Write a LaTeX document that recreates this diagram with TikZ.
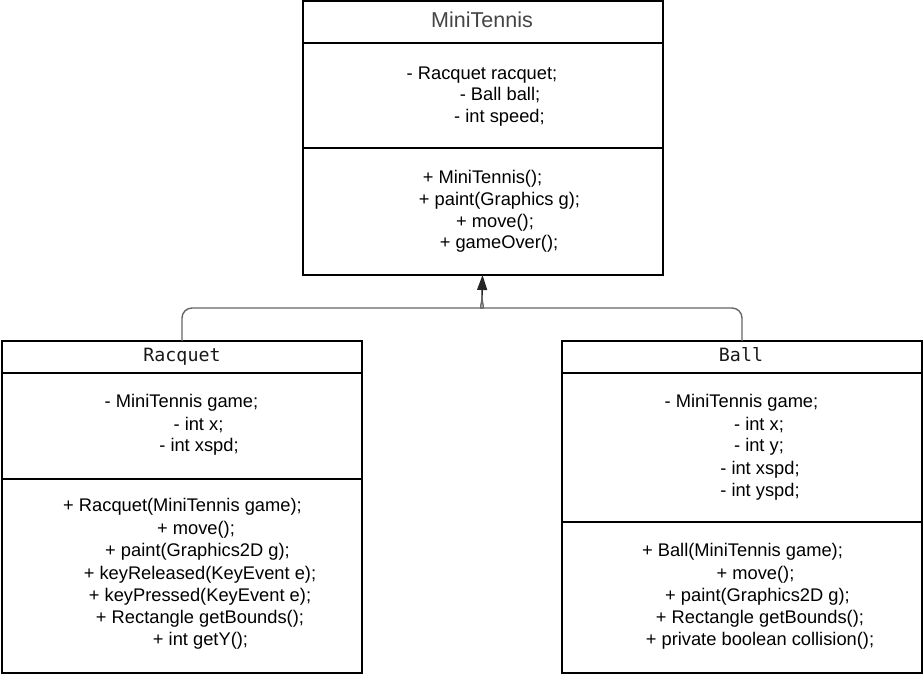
\documentclass[tikz,border=0pt]{standalone}
\usepackage{fontspec}
\setmainfont{Liberation Sans}
\newfontfamily\titlemono{DejaVu Sans Mono}
\usetikzlibrary{arrows.meta}
\definecolor{conncol}{HTML}{666666}
\definecolor{titlegray}{HTML}{444444}
\tikzset{
  umlbox/.style={draw=black, line width=2pt, inner sep=0pt, outer sep=0pt, minimum width=360pt},
  divline/.style={draw=black, line width=2pt},
  txt/.style={anchor=base, inner sep=0pt, font=\fontsize{18.3}{22}\selectfont},
  bigtitle/.style={anchor=base, inner sep=0pt, text=titlegray, font=\fontsize{21.5}{24}\selectfont},
  monotitle/.style={anchor=base, inner sep=0pt, text=black!90, font=\titlemono\fontsize{18.3}{22}\selectfont},
  conn/.style={draw=conncol, line width=1.4pt},
  inh/.style={draw=black!85, line width=1.4pt, -{Triangle[length=15pt 0, width=10pt 0]}}
}
\begin{document}
\begin{tikzpicture}[x=1pt,y=-1pt]
\useasboundingbox (0,0) rectangle (923,675);
% boxes
\node[umlbox, minimum height=274pt] (mt) at (482.5,138) {};
\node[umlbox, minimum height=332pt] (rq) at (182,507) {};
\node[umlbox, minimum height=332pt] (bl) at (742,507) {};
% dividers
\draw[divline] ([yshift=-42pt]mt.north west) -- ([yshift=-42pt]mt.north east);
\draw[divline] ([yshift=-146.7pt]mt.north west) -- ([yshift=-146.7pt]mt.north east);
\draw[divline] ([yshift=-32.3pt]rq.north west) -- ([yshift=-32.3pt]rq.north east);
\draw[divline] ([yshift=-138pt]rq.north west) -- ([yshift=-138pt]rq.north east);
\draw[divline] ([yshift=-32.3pt]bl.north west) -- ([yshift=-32.3pt]bl.north east);
\draw[divline] ([yshift=-181.3pt]bl.north west) -- ([yshift=-181.3pt]bl.north east);
% MiniTennis texts
\node[bigtitle] (mtT) at (482,27) {MiniTennis};
\node[txt] (mtA1) at (482,79) {- Racquet racquet;};
\node[txt] (mtA2) at (500,100.5) {- Ball ball;};
\node[txt] (mtA3) at (499.5,122) {- int speed;};
\node[txt] (mtM1) at (482.5,183) {+ MiniTennis();};
\node[txt] (mtM2) at (499.5,205) {+ paint(Graphics g);};
\node[txt] (mtM3) at (495,227) {+ move();};
\node[txt] (mtM4) at (499,248) {+ gameOver();};
% Racquet texts
\node[monotitle] (rqT) at (182,361.7) {Racquet};
\node[txt] (rqA1) at (181.5,407.7) {- MiniTennis game;};
\node[txt] (rqA2) at (198.5,430) {- int x;};
\node[txt] (rqA3) at (199,451.7) {- int xspd;};
\node[txt] (rqM1) at (182.5,511.7) {+ Racquet(MiniTennis game);};
\node[txt] (rqM2) at (196,534) {+ move();};
\node[txt] (rqM3) at (197.5,556.7) {+ paint(Graphics2D g);};
\node[txt] (rqM4) at (200,579) {+ keyReleased(KeyEvent e);};
\node[txt] (rqM5) at (200,601.7) {+ keyPressed(KeyEvent e);};
\node[txt] (rqM6) at (200,623.7) {+ Rectangle getBounds();};
\node[txt] (rqM7) at (200.5,645.7) {+ int getY();};
% Ball texts
\node[monotitle] (blT) at (741,361.7) {Ball};
\node[txt] (blA1) at (741.5,407.7) {- MiniTennis game;};
\node[txt] (blA2) at (759,430) {- int x;};
\node[txt] (blA3) at (759,451.7) {- int y;};
\node[txt] (blA4) at (760,474) {- int xspd;};
\node[txt] (blA5) at (760,496) {- int yspd;};
\node[txt] (blM1) at (742.5,556.7) {+ Ball(MiniTennis game);};
\node[txt] (blM2) at (755.5,579) {+ move();};
\node[txt] (blM3) at (757.5,601.7) {+ paint(Graphics2D g);};
\node[txt] (blM4) at (760,623.7) {+ Rectangle getBounds();};
\node[txt] (blM5) at (760,645.7) {+ private boolean collision();};
% connectors
\coordinate (jl) at (472,308);
\coordinate (jr) at (492,308);
\coordinate (jm) at (482,297);
\draw[conn] (rq.north) [rounded corners=10pt] |- (jl) [sharp corners] .. controls +(7,0) and +(0,7) .. (jm);
\draw[conn] (bl.north) [rounded corners=10pt] |- (jr) [sharp corners] .. controls +(-7,0) and +(0,7) .. (jm);
\draw[inh] (jm) -- (mt.south);
\end{tikzpicture}
\end{document}
